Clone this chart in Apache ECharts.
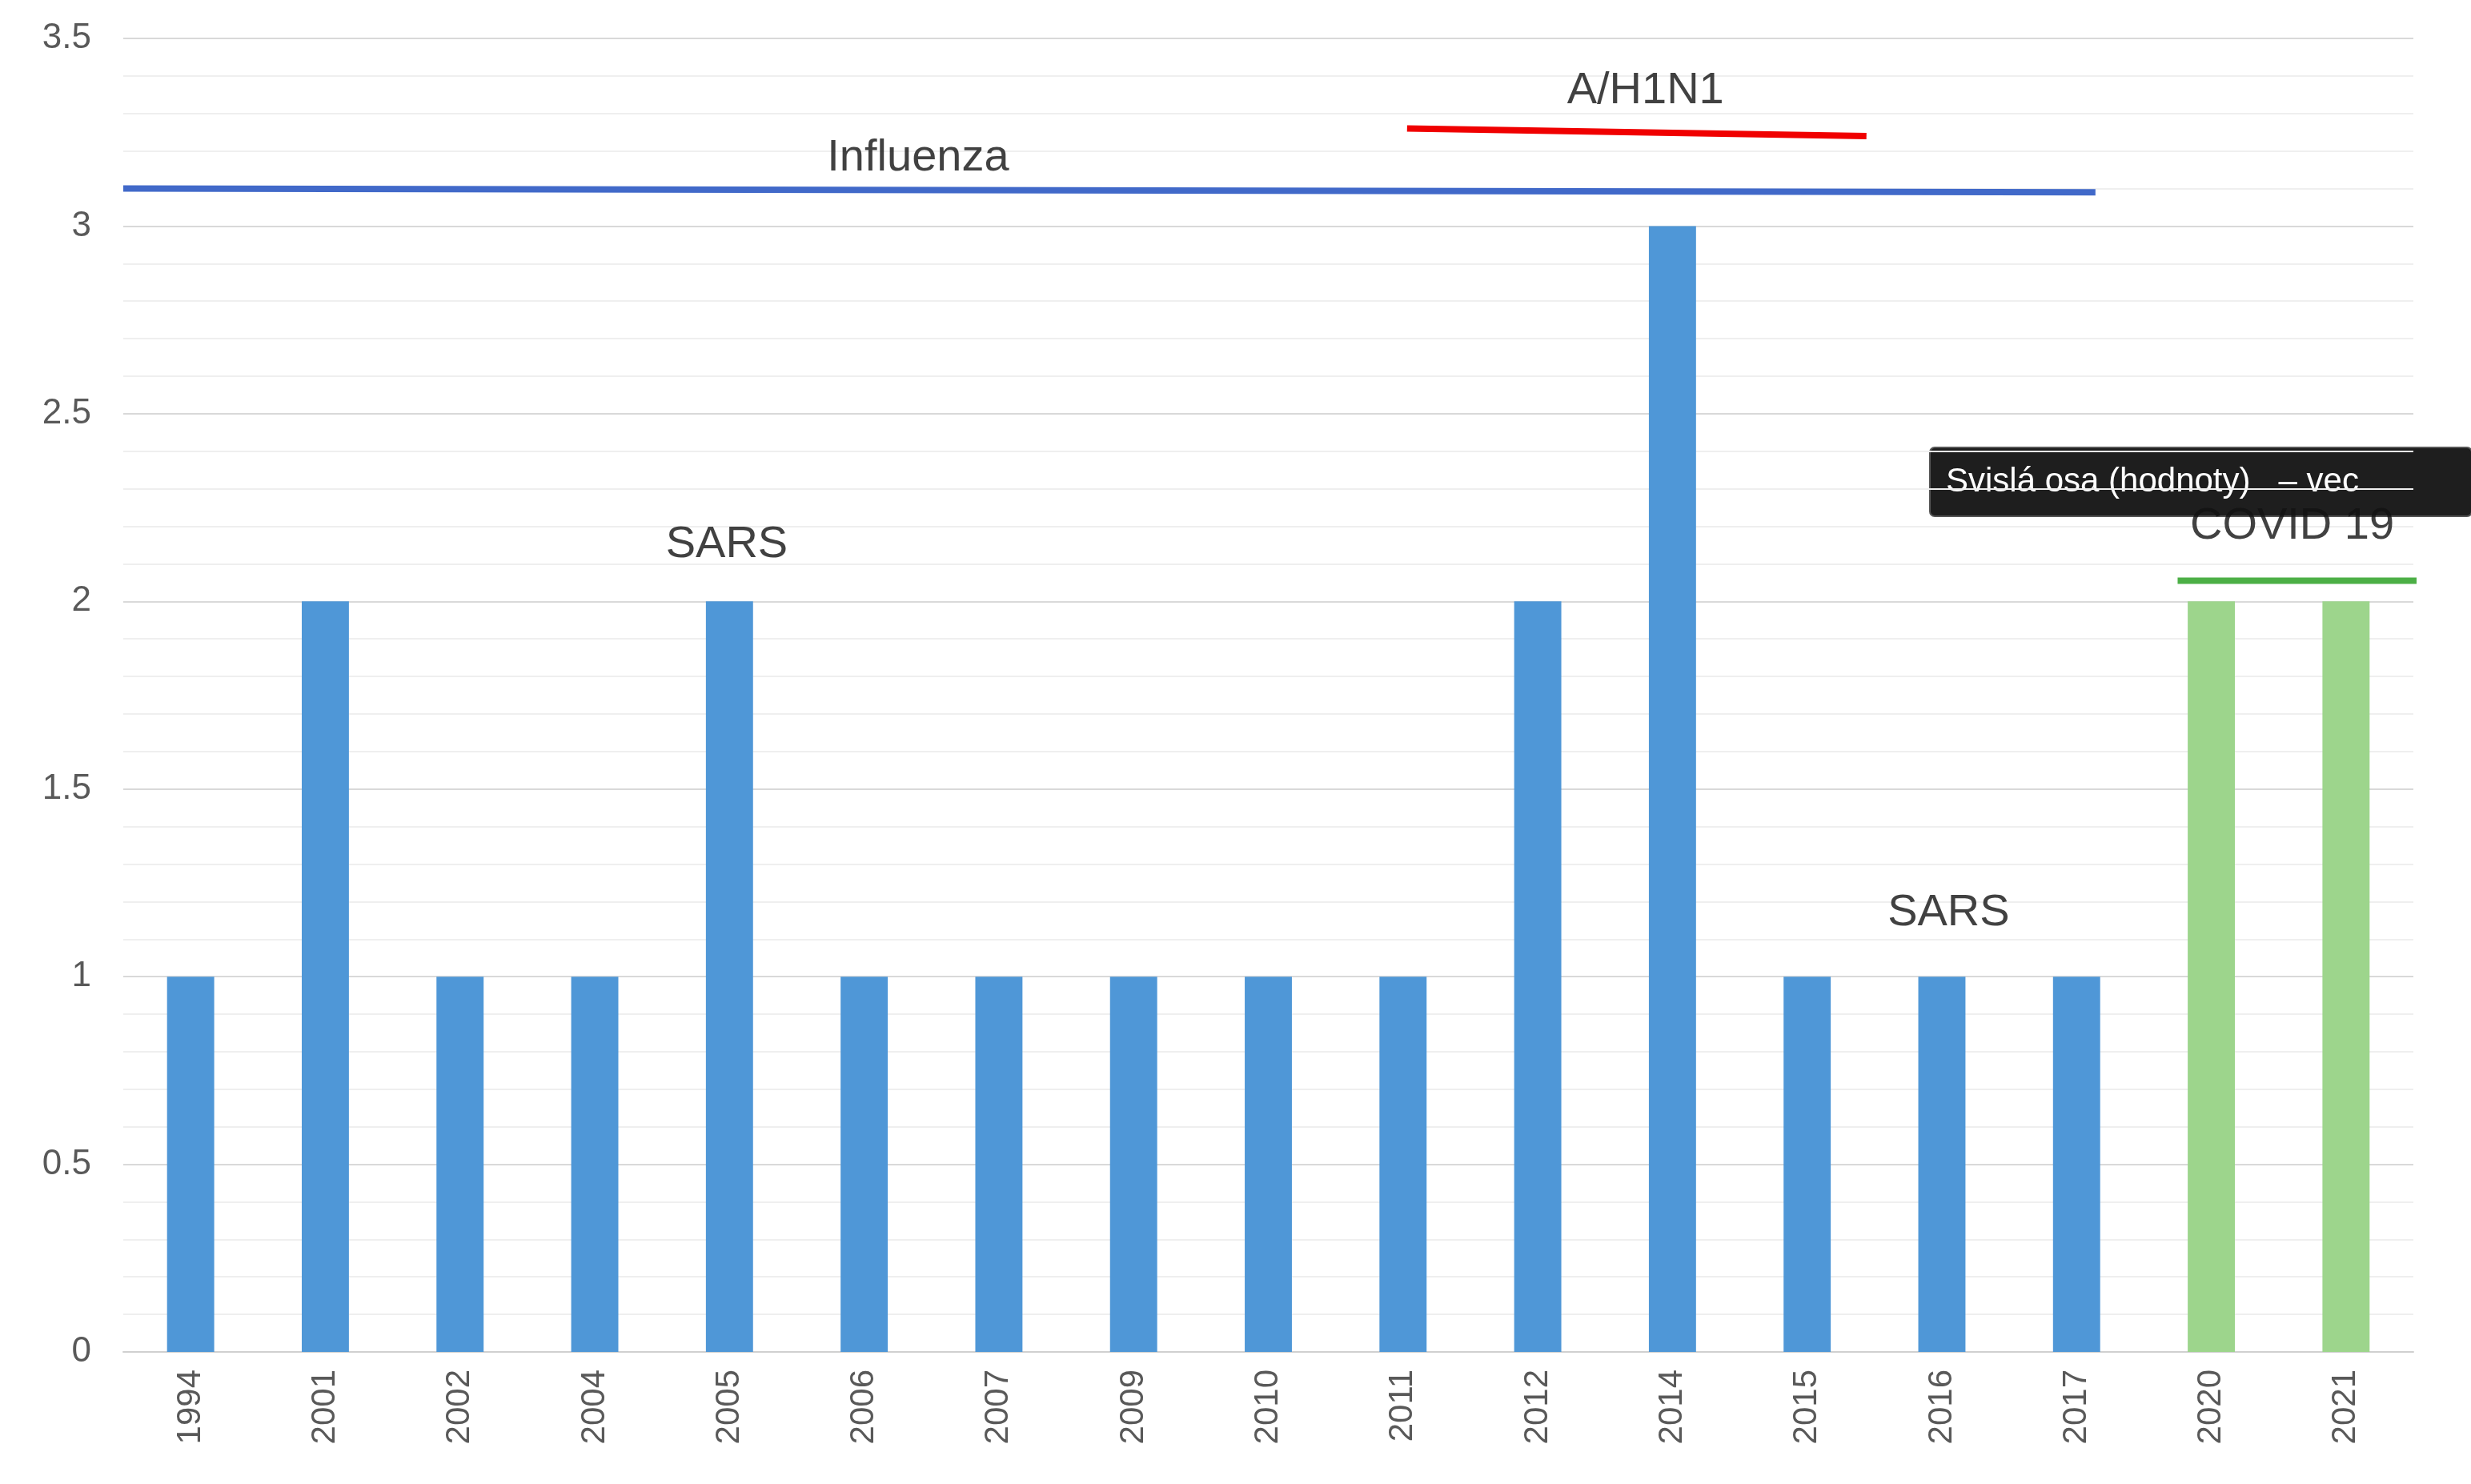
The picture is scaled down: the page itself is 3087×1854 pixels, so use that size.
<!DOCTYPE html>
<html><head><meta charset="utf-8">
<script src="https://cdn.jsdelivr.net/npm/echarts@6/dist/echarts.min.js"></script>
<style>html,body{margin:0;padding:0;background:#fff}#c{width:3087px;height:1854px}</style>
</head><body><div id="c"></div>
<script>
const categories=['1994','2001','2002','2004','2005','2006','2007','2009','2010','2011','2012','2014','2015','2016','2017','2020','2021'];
const values=[1,2,1,1,2,1,1,1,1,1,2,3,1,1,1,2,2];
const covidFrom=15;
const influenzaLine=[[0,3.1],[14.64,3.09]];
const h1n1Line=[[9.53,3.26],[12.94,3.24]];
const covidLine=[[15.25,2.055],[17.13,2.055]];
const textLabels=[['Influenza',5.9,3.18],['A/H1N1',11.3,3.36],['SARS',4.48,2.15],['SARS',13.55,1.17],['COVID 19',16.1,2.2]];

const chart=echarts.init(document.getElementById('c'));
const lineS=(d,c)=>({type:'line',xAxisIndex:1,data:d,symbol:'none',clip:false,lineStyle:{color:c,width:8},z:5,silent:true});
chart.setOption({
 animation:false,
 grid:{left:154,right:72,top:48,bottom:165},
 xAxis:[{type:'category',data:categories,axisTick:{show:false},axisLine:{lineStyle:{color:'#d0d0d0',width:2}},
   axisLabel:{rotate:90,fontSize:42,color:'#595959',margin:22,fontFamily:'Liberation Sans'}},
  {type:'value',min:0,max:17,show:false}],
 yAxis:{type:'value',min:0,max:3.5,interval:0.5,axisLine:{show:false},axisTick:{show:false},
   axisLabel:{fontSize:44,color:'#595959',margin:40,fontFamily:'Liberation Sans'},
   splitLine:{lineStyle:{color:'#d9d9d9',width:2}},
   minorTick:{show:false,splitNumber:5},
   minorSplitLine:{show:true,lineStyle:{color:'#efefef',width:2}}},
 series:[
  {type:'bar',barWidth:'35%',data:values.map((v,i)=>({value:v,itemStyle:{color:i>=covidFrom?'#9dd58c':'#4f97d7'}}))},
  lineS(influenzaLine,'#4169c9'),lineS(h1n1Line,'#f00000'),lineS(covidLine,'#4caf46'),
  {type:'scatter',xAxisIndex:1,symbolSize:0,z:6,data:textLabels.map(t=>({value:[t[1],t[2]],name:t[0]})),
   label:{show:true,position:'inside',formatter:p=>p.name,fontSize:56,color:'#111',fontFamily:'Liberation Sans'}}
 ],
 graphic:[{type:'group',left:2410,top:558,zlevel:2,z:100,children:[
   {type:'rect',shape:{x:0,y:0,width:677,height:86,r:6},style:{fill:'#1e1e1e',stroke:'#555',lineWidth:2}},
   {type:'text',x:20,y:22,style:{text:'Svislá osa (hodnoty)   – vec',fill:'#fff',font:'42px "Liberation Sans"'}}]}]
});
</script></body></html>
